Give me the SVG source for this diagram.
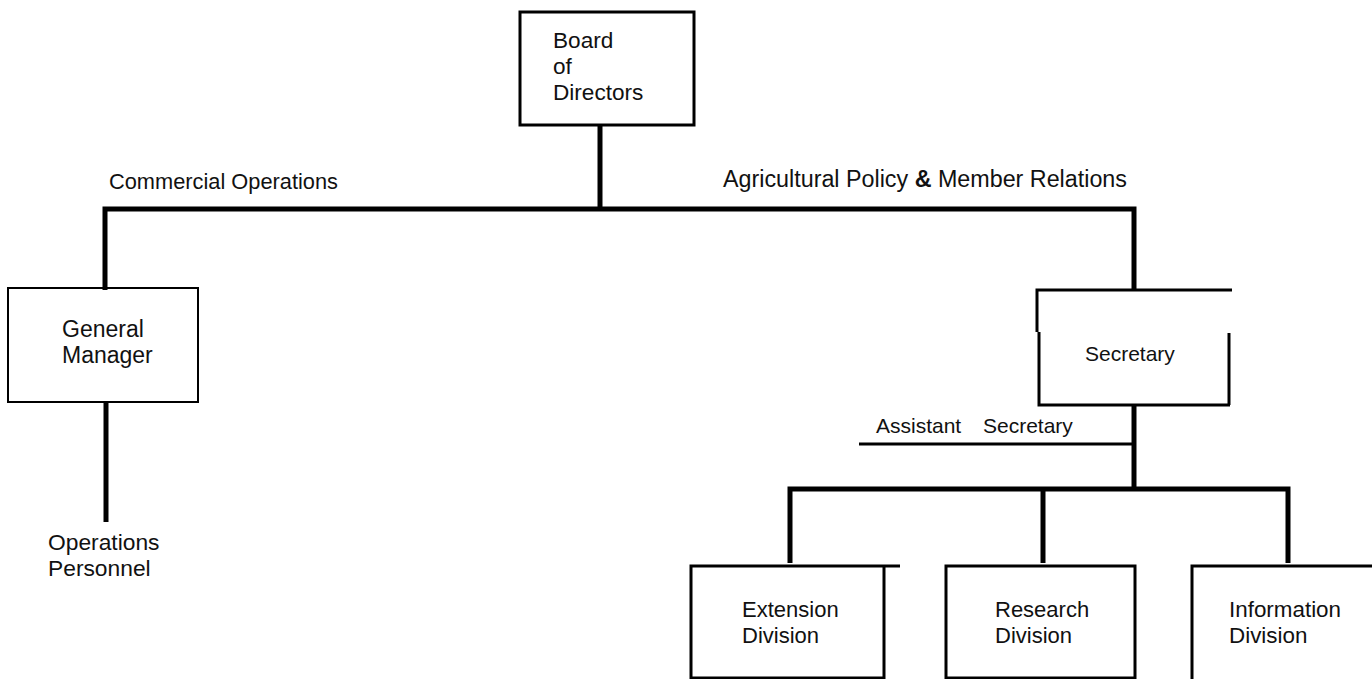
<svg xmlns="http://www.w3.org/2000/svg" width="1372" height="679" viewBox="0 0 1372 679">
<style>
text{font-family:"Liberation Sans",Arial,sans-serif;font-size:21px;fill:#111}
.box{fill:none;stroke:#000;stroke-width:3}
.thin{stroke-width:2}
.conn{fill:none;stroke:#000;stroke-width:5}
.line{fill:none;stroke:#000;stroke-width:3}
.div{font-size:22px}
</style>
<rect width="1372" height="679" fill="#fff"/>
<g id="connectors">
<path class="conn" d="M600,125 V209"/>
<path class="conn" d="M105,290 V209 H1134 V290"/>
<path class="conn" d="M106,402 V522"/>
<path class="conn" d="M1134,405 V489"/>
<path class="conn" d="M790,563 V489 H1288 V563"/>
<path class="conn" d="M1043,489 V563"/>
<path class="line" d="M859,444 H1134"/>
<text x="109" y="189" style="font-size:21.8px">Commercial Operations</text>
<text x="723" y="187" style="font-size:23.3px">Agricultural Policy <tspan font-weight="bold">&amp;</tspan> Member Relations</text>
<text x="876" y="433">Assistant<tspan x="983">Secretary</tspan></text>
</g>
<g id="board">
<rect class="box" x="520" y="12" width="174" height="113"/>
<text x="553" y="48" style="font-size:22.6px">Board</text>
<text x="553" y="74" style="font-size:22.6px">of</text>
<text x="553" y="100" style="font-size:22.6px">Directors</text>
</g>
<g id="general-manager">
<rect class="box thin" x="8" y="288" width="190" height="114"/>
<text x="62" y="337" style="font-size:23px">General</text>
<text x="62" y="363" style="font-size:23px">Manager</text>
</g>
<g id="operations-personnel">
<text x="48" y="550" style="font-size:22.8px">Operations</text>
<text x="48" y="576" style="font-size:22.8px">Personnel</text>
</g>
<g id="secretary">
<path class="box" d="M1037,332 V290 H1232 M1039,332 V405 H1230 M1229,333 V405"/>
<text x="1085" y="361">Secretary</text>
</g>
<g id="extension">
<path class="box" d="M691,679 V566 H900 M884,566 V678 H691"/>
<text class="div" x="742" y="617">Extension</text>
<text class="div" x="742" y="643">Division</text>
</g>
<g id="research">
<rect class="box" x="946" y="566" width="189" height="112"/>
<text class="div" x="995" y="617">Research</text>
<text class="div" x="995" y="643">Division</text>
</g>
<g id="information">
<path class="box" d="M1192,679 V566 H1372"/>
<text class="div" x="1229" y="617" style="font-size:22.4px">Information</text>
<text class="div" x="1229" y="643" style="font-size:22.4px">Division</text>
</g>
</svg>
